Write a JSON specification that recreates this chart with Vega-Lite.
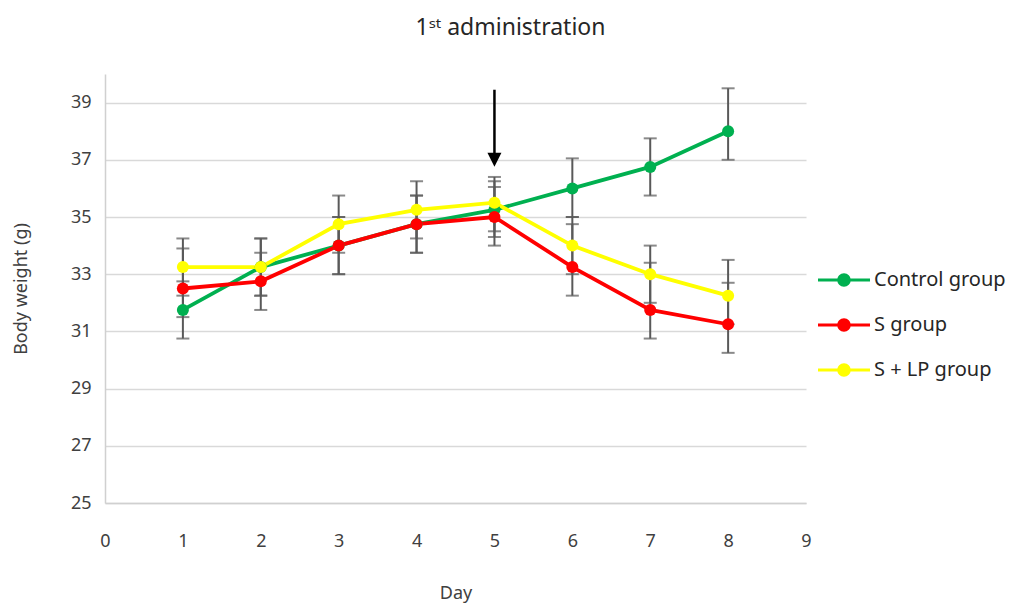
{
  "$schema": "https://vega.github.io/schema/vega-lite/v6.json",
  "width": 701,
  "height": 429,
  "autosize": {"type": "none"},
  "padding": {"left": 105, "top": 74, "right": 208, "bottom": 103},
  "background": "white",
  "title": {
    "text": "1ˢᵗ administration",
    "fontSize": 23,
    "font": "Noto Sans",
    "fontWeight": "normal",
    "color": "#262626",
    "anchor": "middle",
    "dx": 55,
    "offset": 34
  },
  "config": {
    "font": "Noto Sans",
    "view": {"stroke": null},
    "axis": {
      "labelFont": "Noto Sans",
      "titleFont": "Noto Sans",
      "labelFontSize": 18,
      "titleFontSize": 18,
      "labelColor": "#404040",
      "titleColor": "#404040",
      "titleFontWeight": "normal",
      "ticks": false,
      "labelFlush": false,
      "domainColor": "#D0D0D0",
      "domainWidth": 1.5,
      "gridColor": "#D9D9D9",
      "gridWidth": 1.5
    }
  },
  "datasets": {
    "weights": [
      {"day": 1, "group": "Control group", "weight": 31.75, "lo": 30.75, "hi": 32.75},
      {"day": 2, "group": "Control group", "weight": 33.25, "lo": 32.25, "hi": 34.25},
      {"day": 3, "group": "Control group", "weight": 34.0, "lo": 33.0, "hi": 35.0},
      {"day": 4, "group": "Control group", "weight": 34.75, "lo": 33.75, "hi": 35.75},
      {"day": 5, "group": "Control group", "weight": 35.25, "lo": 34.3, "hi": 36.25},
      {"day": 6, "group": "Control group", "weight": 36.0, "lo": 35.0, "hi": 37.05},
      {"day": 7, "group": "Control group", "weight": 36.75, "lo": 35.75, "hi": 37.75},
      {"day": 8, "group": "Control group", "weight": 38.0, "lo": 37.0, "hi": 39.5},
      {"day": 1, "group": "S group", "weight": 32.5, "lo": 31.5, "hi": 33.9},
      {"day": 2, "group": "S group", "weight": 32.75, "lo": 31.75, "hi": 33.75},
      {"day": 3, "group": "S group", "weight": 34.0, "lo": 33.0, "hi": 35.0},
      {"day": 4, "group": "S group", "weight": 34.75, "lo": 33.75, "hi": 35.75},
      {"day": 5, "group": "S group", "weight": 35.0, "lo": 34.0, "hi": 36.05},
      {"day": 6, "group": "S group", "weight": 33.25, "lo": 32.25, "hi": 34.75},
      {"day": 7, "group": "S group", "weight": 31.75, "lo": 30.75, "hi": 33.4},
      {"day": 8, "group": "S group", "weight": 31.25, "lo": 30.25, "hi": 32.7},
      {"day": 1, "group": "S + LP group", "weight": 33.25, "lo": 32.25, "hi": 34.25},
      {"day": 2, "group": "S + LP group", "weight": 33.25, "lo": 32.25, "hi": 34.25},
      {"day": 3, "group": "S + LP group", "weight": 34.75, "lo": 33.75, "hi": 35.75},
      {"day": 4, "group": "S + LP group", "weight": 35.25, "lo": 34.25, "hi": 36.25},
      {"day": 5, "group": "S + LP group", "weight": 35.5, "lo": 34.5, "hi": 36.4},
      {"day": 6, "group": "S + LP group", "weight": 34.0, "lo": 33.0, "hi": 35.0},
      {"day": 7, "group": "S + LP group", "weight": 33.0, "lo": 32.0, "hi": 34.0},
      {"day": 8, "group": "S + LP group", "weight": 32.25, "lo": 31.25, "hi": 33.5}
    ],
    "arrow": [
      {"day": 5, "top": 39.45, "bottom": 37.2, "tip": 37.0}
    ]
  },
  "layer": [
    {
      "data": {"name": "weights"},
      "mark": {"type": "errorbar", "ticks": true, "color": "#595959", "thickness": 2, "size": 13},
      "encoding": {
        "x": {
          "field": "day", "type": "quantitative",
          "scale": {"domain": [0, 9], "nice": false},
          "axis": {"title": "Day", "values": [0, 1, 2, 3, 4, 5, 6, 7, 8, 9], "format": "d", "grid": false, "labelPadding": 29, "titlePadding": 34}
        },
        "y": {
          "field": "lo", "type": "quantitative",
          "scale": {"domain": [25, 40], "nice": false, "zero": false},
          "axis": {"title": "Body weight (g)", "values": [25, 27, 29, 31, 33, 35, 37, 39], "format": "d", "grid": true, "labelPadding": 14, "titlePadding": 40}
        },
        "y2": {"field": "hi"}
      }
    },
    {
      "data": {"name": "weights"},
      "mark": {"type": "line", "strokeWidth": 3.8},
      "encoding": {
        "x": {"field": "day", "type": "quantitative"},
        "y": {"field": "weight", "type": "quantitative"},
        "color": {
          "field": "group", "type": "nominal",
          "scale": {"domain": ["Control group", "S group", "S + LP group"], "range": ["#00B050", "#FF0000", "#FFFF00"]},
          "legend": {
            "title": null,
            "orient": "none",
            "legendX": 713,
            "legendY": 180,
            "symbolType": "M-1,-0.06L1,-0.06L1,0.06L-1,0.06Z M-0.26,0 A0.26,0.26 0 1,1 0.26,0 A0.26,0.26 0 1,1 -0.26,0 Z",
            "symbolSize": 2704,
            "symbolStrokeWidth": 0,
            "labelFontSize": 20,
            "labelFont": "Noto Sans",
            "labelColor": "#262626",
            "labelOffset": 4,
            "rowPadding": 9
          }
        }
      }
    },
    {
      "data": {"name": "weights"},
      "mark": {"type": "point", "filled": true, "opacity": 1, "size": 145},
      "encoding": {
        "x": {"field": "day", "type": "quantitative"},
        "y": {"field": "weight", "type": "quantitative"},
        "color": {"field": "group", "type": "nominal"}
      }
    },
    {
      "data": {"name": "arrow"},
      "mark": {"type": "rule", "color": "black", "strokeWidth": 2.5},
      "encoding": {
        "x": {"field": "day", "type": "quantitative"},
        "y": {"field": "top", "type": "quantitative"},
        "y2": {"field": "bottom"}
      }
    },
    {
      "data": {"name": "arrow"},
      "mark": {"type": "point", "shape": "M-1,-1L1,-1L0,1Z", "filled": true, "color": "black", "opacity": 1, "size": 196},
      "encoding": {
        "x": {"field": "day", "type": "quantitative"},
        "y": {"field": "tip", "type": "quantitative"}
      }
    }
  ]
}
